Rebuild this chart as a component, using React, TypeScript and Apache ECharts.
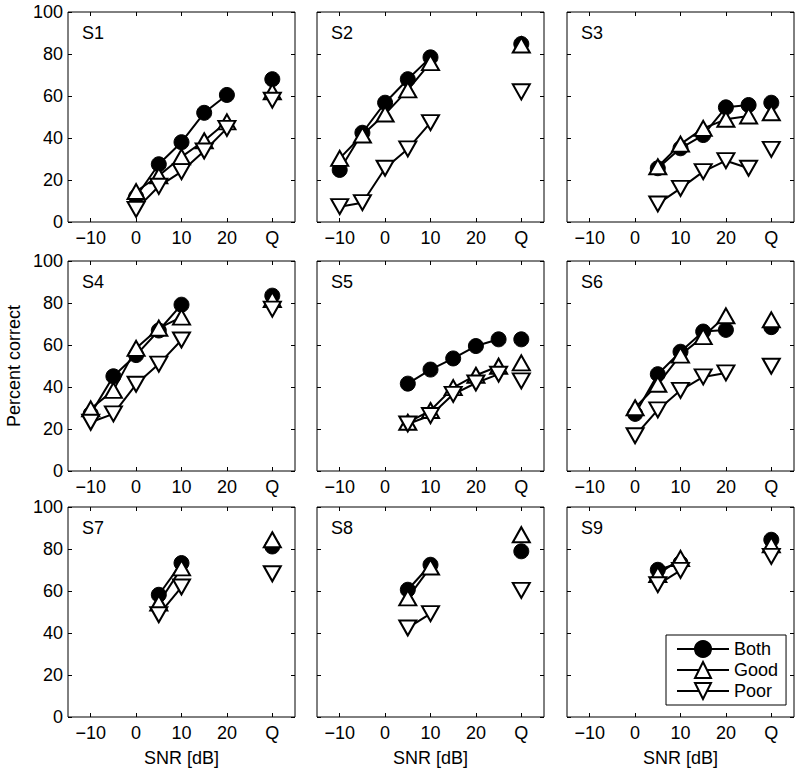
import React, { useEffect, useRef } from "react";
import * as echarts from "echarts";

const PANELS = ["S1", "S2", "S3", "S4", "S5", "S6", "S7", "S8", "S9"];
const X_TICKS = [-10, 0, 10, 20, 30]; // 30 is shown as "Q"
const Y_TICKS = [0, 20, 40, 60, 80, 100];
const Q_POS = 30;

const SNR = [
  [0, 5, 10, 15, 20],
  [-10, -5, 0, 5, 10],
  [5, 10, 15, 20, 25],
  [-10, -5, 0, 5, 10],
  [5, 10, 15, 20, 25],
  [0, 5, 10, 15, 20],
  [5, 10],
  [5, 10],
  [5, 10],
];
const BOTH = [
  [12, 27.5, 38, 52, 60.5],
  [24.8, 42.5, 56.8, 68, 78.4],
  [25.6, 35.1, 41.4, 54.6, 55.7],
  [27.2, 45.1, 55.2, 66.9, 79.2],
  [41.6, 48.3, 53.6, 59.5, 62.7],
  [27.2, 46.1, 56.8, 66.4, 67.2],
  [58.2, 73.3],
  [60.6, 72.5],
  [70.1, 73.3],
];
const GOOD = [
  [14.5, 22, 31, 38.7, 47.7],
  [30.3, 41.4, 51.4, 62.9, 75.9],
  [26.3, 37.1, 44.6, 48.9, 50.5],
  [29.6, 38.4, 58.4, 68, 73.3],
  [23.2, 28.8, 39.7, 45.6, 49.9],
  [30.1, 41.3, 55.2, 64, 73.9],
  [54.3, 71],
  [56.7, 71.4],
  [67.8, 75.5],
];
const POOR = [
  [6, 17, 24, 33.8, 44.6],
  [7.3, 9.2, 25.6, 34.8, 47.3],
  [8.6, 16, 24, 29.2, 25.6],
  [23.2, 27.2, 41.3, 50.9, 62.4],
  [22.4, 26.4, 36.5, 41.9, 46.1],
  [16.8, 29.1, 38.4, 44.8, 46.7],
  [48.7, 61.9],
  [42.4, 49.2],
  [63, 69.8],
];
const Q_BOTH = [68, 84.8, 56.8, 83.5, 62.7, 68.5, 81.2, 78.9, 84.4];
const Q_GOOD = [62, 84.3, 52, 81.6, 51.5, 72, 84.4, 86.8, 82];
const Q_POOR = [58, 62, 34.6, 77.1, 42.9, 49.9, 68.2, 60.3, 76.5];

const COL_LEFT = [68, 317, 567];
const ROW_TOP = [12, 261, 507];
const GRID_W = 227;
const GRID_H = 210;
const FONT = "'Liberation Sans', Arial, Helvetica, sans-serif";
const FS = 18;

const STYLES: Record<string, any> = {
  Both: {
    symbol: "circle",
    symbolSize: 15,
    symbolRotate: 0,
    itemStyle: { color: "#000", borderColor: "#000", borderWidth: 1 },
  },
  Good: {
    symbol: "triangle",
    symbolSize: [17, 15],
    symbolRotate: 0,
    itemStyle: { color: "#fff", borderColor: "#000", borderWidth: 2 },
  },
  Poor: {
    symbol: "triangle",
    symbolSize: [17, 15],
    symbolRotate: 180,
    itemStyle: { color: "#fff", borderColor: "#000", borderWidth: 2 },
  },
};

function fmtX(v: number) {
  if (v === Q_POS) return "Q";
  if (v < 0) return "\u2212" + Math.abs(v);
  return String(v);
}

export default function App() {
  const ref = useRef<HTMLDivElement>(null);
  useEffect(() => {
    if (!ref.current) return;
    const chart = echarts.init(ref.current, null, { renderer: "svg" });
    const grid: any[] = [];
    const xAxis: any[] = [];
    const yAxis: any[] = [];
    const series: any[] = [];
    const graphic: any[] = [];

    PANELS.forEach((name, i) => {
      const col = i % 3;
      const row = Math.floor(i / 3);
      const left = COL_LEFT[col];
      const top = ROW_TOP[row];
      grid.push({
        left,
        top,
        width: GRID_W,
        height: GRID_H,
        show: true,
        borderColor: "#000",
        borderWidth: 1,
        backgroundColor: "#fff",
      });
      const tickBase = {
        show: true,
        inside: true,
        length: 4,
        lineStyle: { color: "#000", width: 1 },
      };
      const noLine = { show: false, onZero: false };
      xAxis.push({
        type: "value",
        gridIndex: i,
        position: "bottom",
        min: -15,
        max: 35,
        axisLine: noLine,
        splitLine: { show: false },
        axisTick: { ...tickBase, customValues: X_TICKS },
        axisLabel: {
          customValues: X_TICKS,
          formatter: fmtX,
          color: "#000",
          fontSize: FS,
          fontFamily: FONT,
          margin: 7,
        },
      });
      xAxis.push({
        type: "value",
        gridIndex: i,
        position: "top",
        min: -15,
        max: 35,
        axisLine: noLine,
        splitLine: { show: false },
        axisTick: { ...tickBase, customValues: X_TICKS },
        axisLabel: { show: false, customValues: X_TICKS },
      });
      yAxis.push({
        type: "value",
        gridIndex: i,
        position: "left",
        min: 0,
        max: 100,
        interval: 20,
        axisLine: noLine,
        splitLine: { show: false },
        axisTick: tickBase,
        axisLabel: {
          show: col === 0,
          color: "#000",
          fontSize: FS,
          fontFamily: FONT,
          margin: 5,
        },
      });
      yAxis.push({
        type: "value",
        gridIndex: i,
        position: "right",
        min: 0,
        max: 100,
        interval: 20,
        axisLine: noLine,
        splitLine: { show: false },
        axisTick: tickBase,
        axisLabel: { show: false },
      });

      const groups: [string, number[], number][] = [
        ["Both", BOTH[i], Q_BOTH[i]],
        ["Good", GOOD[i], Q_GOOD[i]],
        ["Poor", POOR[i], Q_POOR[i]],
      ];
      groups.forEach(([sname, vals]) => {
        const st = STYLES[sname];
        series.push({
          type: "line",
          name: sname,
          xAxisIndex: i * 2,
          yAxisIndex: i * 2,
          data: SNR[i].map((x, k) => [x, vals[k]]),
          symbol: st.symbol,
          symbolSize: st.symbolSize,
          symbolRotate: st.symbolRotate,
          showSymbol: true,
          showAllSymbol: true,
          itemStyle: st.itemStyle,
          lineStyle: { color: "#000", width: 2 },
          emphasis: { disabled: true },
          silent: true,
        });
      });
      groups.forEach(([sname, , q]) => {
        const st = STYLES[sname];
        series.push({
          type: "line",
          name: sname,
          xAxisIndex: i * 2,
          yAxisIndex: i * 2,
          data: [[Q_POS, q]],
          symbol: st.symbol,
          symbolSize: st.symbolSize,
          symbolRotate: st.symbolRotate,
          showSymbol: true,
          itemStyle: st.itemStyle,
          lineStyle: { color: "#000", width: 2 },
          emphasis: { disabled: true },
          silent: true,
        });
      });

      graphic.push({
        type: "text",
        x: left + 14,
        y: top + 21,
        style: {
          text: name,
          fontSize: FS,
          fontFamily: FONT,
          fill: "#000",
          align: "left",
          verticalAlign: "middle",
        },
      });
      if (row === 2) {
        graphic.push({
          type: "text",
          x: left + GRID_W / 2,
          y: 758,
          style: {
            text: "SNR [dB]",
            fontSize: FS,
            fontFamily: FONT,
            fill: "#000",
            align: "center",
            verticalAlign: "middle",
          },
        });
      }
    });

    graphic.push({
      type: "text",
      x: 14,
      y: ROW_TOP[1] + GRID_H / 2,
      rotation: Math.PI / 2,
      style: {
        text: "Percent correct",
        fontSize: FS,
        fontFamily: FONT,
        fill: "#000",
        align: "center",
        verticalAlign: "middle",
      },
    });

    chart.setOption({
      animation: false,
      backgroundColor: "#fff",
      grid,
      xAxis,
      yAxis,
      series,
      graphic,
      legend: {
        data: ["Both", "Good", "Poor"],
        orient: "vertical",
        left: 666,
        top: 635,
        itemWidth: 52,
        itemHeight: 20,
        itemGap: 3,
        padding: [5, 8, 5, 10],
        borderColor: "#000",
        borderWidth: 1,
        backgroundColor: "#fff",
        selectedMode: false,
        lineStyle: { width: 2, color: "#000" },
        textStyle: { fontSize: FS, fontFamily: FONT, color: "#000" },
      },
    });
    return () => chart.dispose();
  }, []);
  return (
    <div
      ref={ref}
      style={{ position: "fixed", left: 0, top: 0, width: 800, height: 772 }}
    />
  );
}
